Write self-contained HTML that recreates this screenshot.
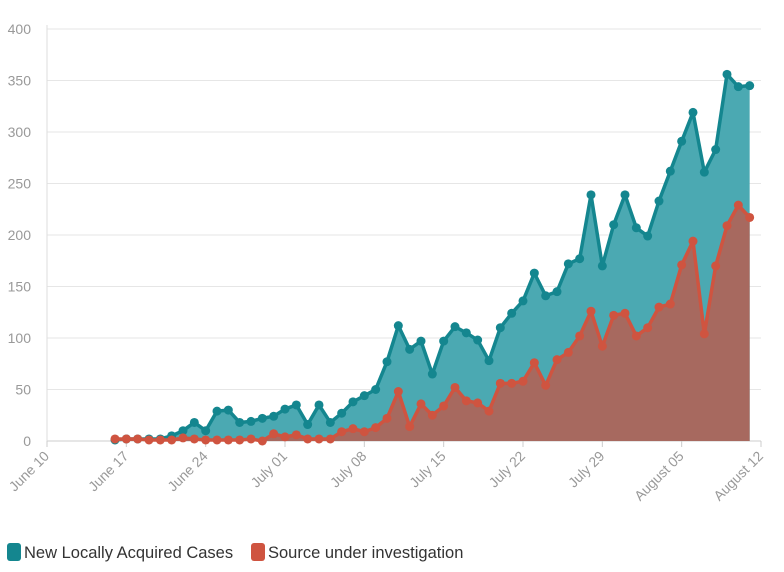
<!DOCTYPE html>
<html><head><meta charset="utf-8"><style>
body{margin:0;background:#fff;font-family:"Liberation Sans",sans-serif}
svg text{font-family:"Liberation Sans",sans-serif}
</style></head><body>
<svg id="chart" width="784" height="567" viewBox="0 0 784 567"></svg>
<script>
const startDate = new Date(2020,5,16);
const teal = [1,2,2,2,2,5,10,18,10,29,30,18,19,22,24,31,35,16,35,18,27,38,44,50,77,112,89,97,65,97,111,105,98,78,110,124,136,163,141,145,172,177,239,170,210,239,207,199,233,262,291,319,261,283,356,344,345];
const red = [2,2,2,1,1,1,3,2,1,1,1,1,2,0,7,4,6,2,2,2,9,12,9,13,22,48,14,36,25,34,52,39,37,29,56,56,58,76,54,79,86,102,126,92,122,124,102,110,130,133,171,194,104,170,209,229,217];
const yTicks = [0,50,100,150,200,250,300,350,400];
const xTickLabels = ["June 10","June 17","June 24","July 01","July 08","July 15","July 22","July 29","August 05","August 12"];
const xTickDays = [-6,1,8,15,22,29,36,43,50,57];
const NS="http://www.w3.org/2000/svg";
const svg=document.getElementById('chart');
const X0=47,X1=761,Y0=441,Y1=29;
const xs=d=>X0+(d+6)*(X1-X0)/63;
const ys=v=>Y0-v*(Y0-Y1)/400;
function mk(t,a,p){const e=document.createElementNS(NS,t);for(const k in a)e.setAttribute(k,a[k]);(p||svg).appendChild(e);return e;}
yTicks.forEach(v=>{
  const l=mk('line',{x1:X0,x2:X1,y1:ys(v),y2:ys(v),stroke:v===0?'#ccc':'#e6e6e6','stroke-width':1});
  
  
  const t=mk('text',{x:31,y:ys(v)+5,'text-anchor':'end','font-size':14,fill:'#999'});
  t.textContent=v;
  
  
});
mk('line',{x1:X0,x2:X0,y1:Y1-4,y2:Y0,stroke:'#ddd'});
xTickDays.forEach((d,i)=>{
  const x=xs(d);
  mk('line',{x1:x,x2:x,y1:Y0,y2:Y0+6,stroke:'#ccc'});
  const t=mk('text',{x:x+3,y:Y0+16,'text-anchor':'end','font-size':14,fill:'#999',transform:`rotate(-45 ${x+3} ${Y0+16})`});
  t.textContent=xTickLabels[i];
  
  
});
function series(vals,line,fill,name){
  const pts=vals.map((v,i)=>[xs(i),ys(v)]);
  const area=mk('path',{d:'M'+pts[0][0]+','+Y0+pts.map(p=>'L'+p[0]+','+p[1]).join('')+'L'+pts[pts.length-1][0]+','+Y0+'Z',fill:fill});
  
  
  const pl=mk('polyline',{points:pts.map(p=>p.join(',')).join(' '),fill:'none',stroke:line,'stroke-width':3.5,'stroke-linejoin':'round'});
  
  
  pts.forEach(p=>{
    const c=mk('circle',{cx:p[0],cy:p[1],r:4.5,fill:line});
    
    
  });
}
series(teal,'#14868f','#4ba9b2','locally-acquired');
series(red,'#cf5440','#a7695f','under-investigation');
// legend
const lg=[['#14868f','New Locally Acquired Cases',7],['#cf5440','Source under investigation',251]];
lg.forEach(([c,s,x],i)=>{
  const r=mk('rect',{x:x,y:543,width:14,height:18,rx:3,fill:c});
  
  
  const t=mk('text',{x:x+17,y:558,'font-size':16.5,fill:'#333'});
  t.textContent=s;
  
  
});
</script>
</body></html>
